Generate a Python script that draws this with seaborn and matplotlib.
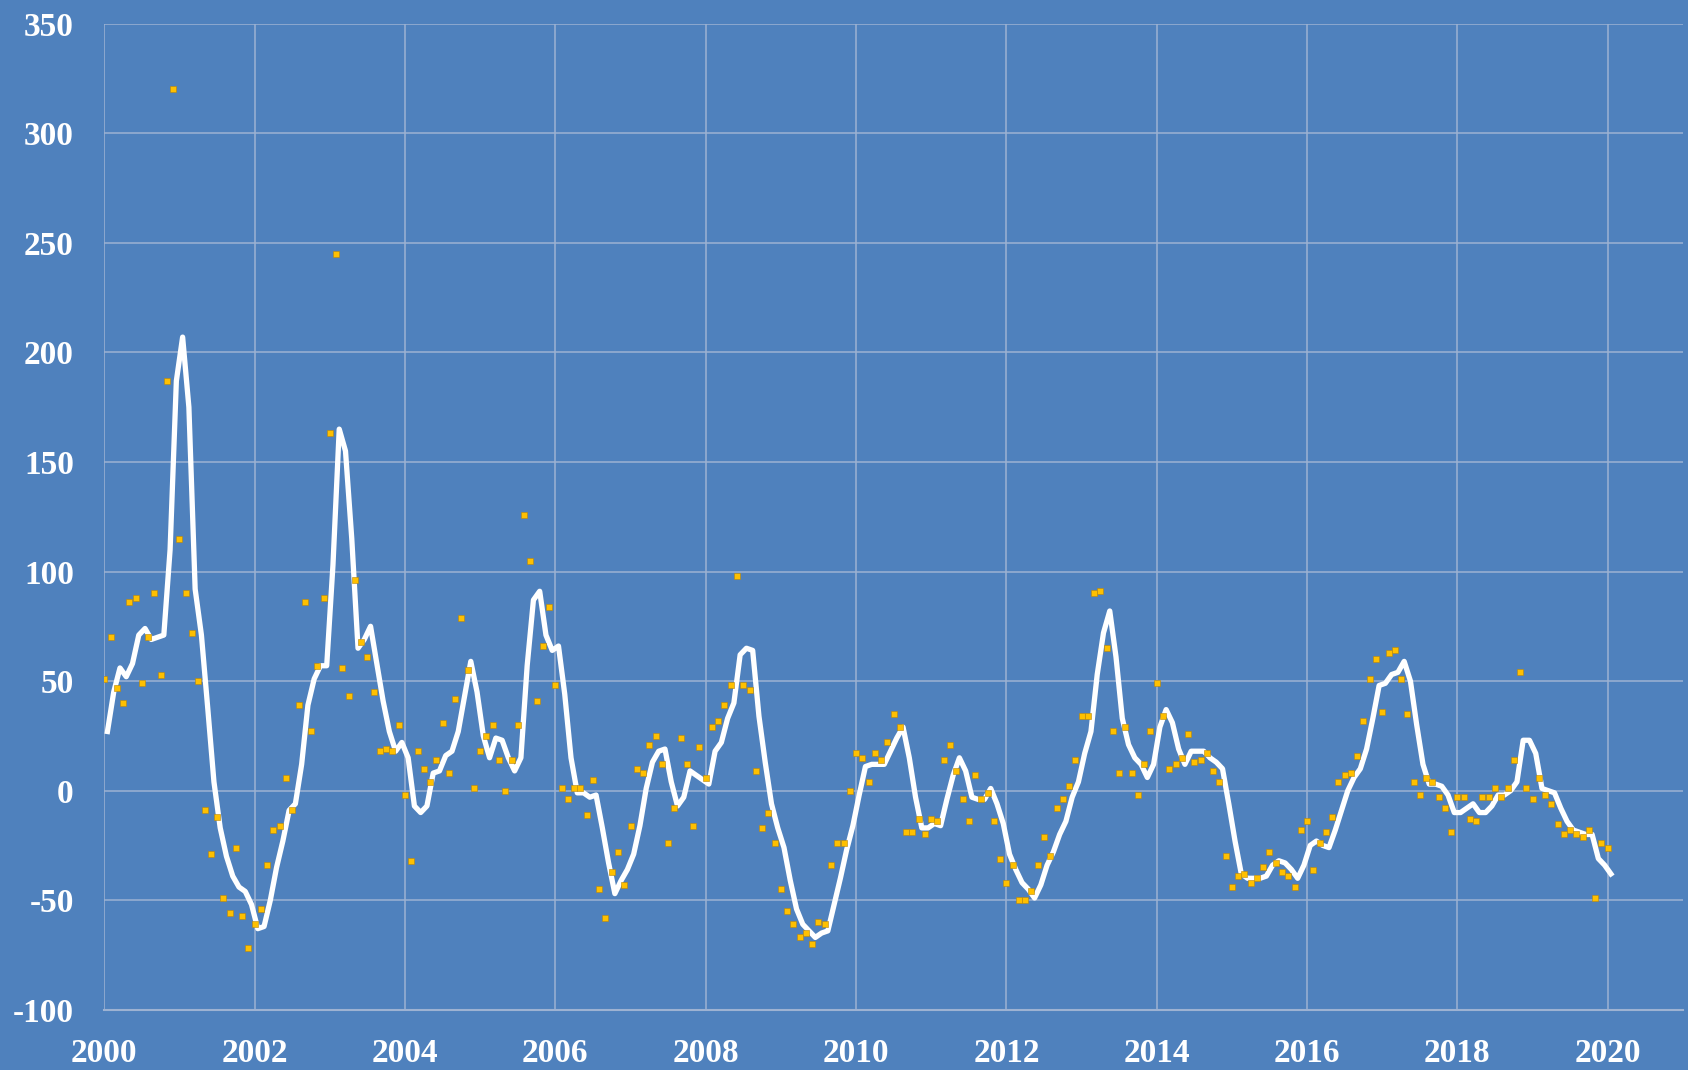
import numpy as np
import pandas as pd
import matplotlib
matplotlib.use("Agg")
import matplotlib.pyplot as plt
import seaborn as sns

plt.rcParams["axes.unicode_minus"] = False

# valores mensais jan/2000 - jan/2020 (pontos)
pontos = [
    51, 70, 47, 40, 86, 88, 49, 70, 90, 53, 187, 320,          # 2000
    115, 90, 72, 50, -9, -29, -12, -49, -56, -26, -57, -72,     # 2001
    -61, -54, -34, -18, -16, 6, -9, 39, 86, 27, 57, 88,         # 2002
    163, 245, 56, 43, 96, 68, 61, 45, 18, 19, 18, 30,           # 2003
    -2, -32, 18, 10, 4, 14, 31, 8, 42, 79, 55, 1,               # 2004
    18, 25, 30, 14, 0, 14, 30, 126, 105, 41, 66, 84,            # 2005
    48, 1, -4, 1, 1, -11, 5, -45, -58, -37, -28, -43,           # 2006
    -16, 10, 8, 21, 25, 12, -24, -8, 24, 12, -16, 20,           # 2007
    6, 29, 32, 39, 48, 98, 48, 46, 9, -17, -10, -24,            # 2008
    -45, -55, -61, -67, -65, -70, -60, -61, -34, -24, -24, 0,   # 2009
    17, 15, 4, 17, 14, 22, 35, 29, -19, -19, -13, -20,          # 2010
    -13, -14, 14, 21, 9, -4, -14, 7, -4, -1, -14, -31,          # 2011
    -42, -34, -50, -50, -46, -34, -21, -30, -8, -4, 2, 14,      # 2012
    34, 34, 90, 91, 65, 27, 8, 29, 8, -2, 12, 27,               # 2013
    49, 34, 10, 12, 15, 26, 13, 14, 17, 9, 4, -30,              # 2014
    -44, -39, -38, -42, -40, -35, -28, -33, -37, -39, -44, -18, # 2015
    -14, -36, -24, -19, -12, 4, 7, 8, 16, 32, 51, 60,           # 2016
    36, 63, 64, 51, 35, 4, -2, 6, 4, -3, -8, -19,               # 2017
    -3, -3, -13, -14, -3, -3, 1, -3, 1, 14, 54, 1,              # 2018
    -4, 6, -2, -6, -15, -20, -18, -20, -21, -18, -49, -24,      # 2019
    -26,                                                        # 2020
]

# media movel (linha branca)
media = [
    27, 45, 56, 52, 58, 71, 74, 69, 70, 71, 110, 187,
    207, 175, 92, 71, 38, 4, -17, -30, -39, -44, -46, -52,
    -63, -62, -50, -35, -23, -9, -6, 12, 39, 51, 57, 57,
    103, 165, 155, 115, 65, 69, 75, 58, 41, 27, 18, 22,
    15, -7, -10, -7, 8, 9, 16, 18, 27, 43, 59, 45,
    25, 15, 24, 23, 15, 9, 15, 57, 87, 91, 71, 64,
    66, 44, 15, -1, -1, -3, -2, -17, -33, -47, -41, -36,
    -29, -16, 1, 13, 18, 19, 4, -7, -3, 9, 7, 5,
    3, 18, 22, 33, 40, 62, 65, 64, 34, 13, -6, -17,
    -26, -41, -54, -61, -64, -67, -65, -64, -52, -40, -27, -16,
    -2, 11, 12, 12, 12, 18, 24, 29, 15, -3, -17, -17,
    -15, -16, -4, 7, 15, 9, -3, -4, -4, 1, -6, -15,
    -29, -36, -42, -45, -49, -43, -34, -28, -20, -14, -3, 4,
    17, 27, 53, 72, 82, 61, 33, 21, 15, 12, 6, 12,
    29, 37, 31, 19, 12, 18, 18, 18, 15, 13, 10, -6,
    -23, -38, -40, -40, -40, -39, -34, -32, -33, -36, -40, -34,
    -25, -23, -25, -26, -18, -9, 0, 6, 10, 19, 33, 48,
    49, 53, 54, 59, 50, 30, 12, 3, 3, 2, -2, -10,
    -10, -8, -6, -10, -10, -7, -2, -2, 0, 4, 23, 23,
    17, 1, 0, -1, -8, -14, -18, -19, -20, -20, -31, -34,
    -38,
]

anos_ticks = list(range(2000, 2021, 2))
y_ticks = list(range(-100, 351, 50))

meses = np.arange(len(pontos))
df = pd.DataFrame({
    "data": 2000 + meses / 12,
    "data_media": 2000 + (meses + 0.5) / 12,   # media marcada no meio do mes
    "pontos": pontos,
    "media": media,
})

azul = "#4F81BD"
grade = "#9DB2D2"

fig = plt.figure(figsize=(16.88, 10.70), dpi=100, facecolor=azul)
ax = fig.add_axes([0.0618, 0.0563, 0.9352, 0.9215])
ax.set_facecolor(azul)

sns.lineplot(data=df, x="data_media", y="media", color="white", linewidth=3.8, ax=ax, zorder=3)
sns.scatterplot(data=df, x="data", y="pontos", marker="s", s=24, color="#FFC000",
                edgecolor="#B8860B", linewidth=0.4, ax=ax, zorder=4)

ax.set_xlim(2000, 2021)
ax.set_ylim(-100, 350)
ax.set_xticks(anos_ticks)
ax.set_yticks(y_ticks)
ax.set_xticklabels([str(a) for a in anos_ticks])
ax.grid(True, color=grade, linewidth=1.1)
ax.set_axisbelow(True)
for s in ["top", "right", "left"]:
    ax.spines[s].set_visible(False)
ax.spines["bottom"].set_color(grade)
ax.spines["bottom"].set_linewidth(1.5)

ax.tick_params(axis="both", length=0, colors="white", labelsize=24)
ax.tick_params(axis="x", pad=20)
ax.tick_params(axis="y", pad=22)
for lab in ax.get_xticklabels() + ax.get_yticklabels():
    lab.set_fontfamily("Liberation Serif")
    lab.set_fontweight("bold")
ax.set_xlabel("")
ax.set_ylabel("")

fig.savefig("out.png", dpi=100, facecolor=azul)
